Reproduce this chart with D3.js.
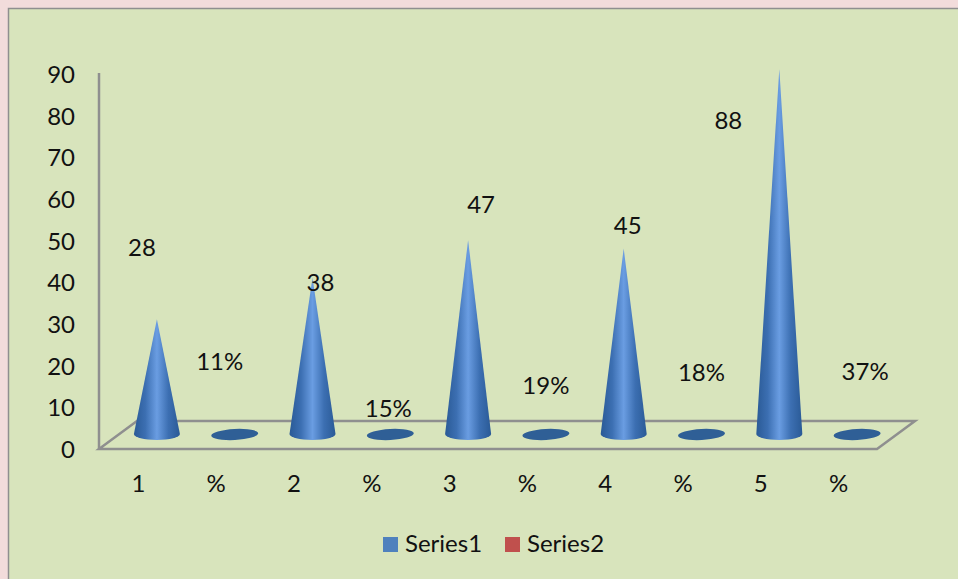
<!DOCTYPE html>
<html><head><meta charset="utf-8">
<script src="https://d3js.org/d3.v7.min.js"></script>
<style>html,body{margin:0;padding:0;background:#f2dcdb}svg{display:block}text{font-family:Lato,"Open Sans",sans-serif;fill:#111}</style>
</head><body><svg id="c" width="958" height="579"></svg>
<script>
const categories = ["1","%","2","%","3","%","4","%","5","%"];
const seriesValues = [28,0.11,38,0.15,47,0.19,45,0.18,88,0.37];
const dataLabels = ["28","11%","38","15%","47","19%","45","18%","88","37%"];
const labelDx = [-15,-15,8,-2,13,0,4,0,-51,8];
const labelDy = [247,361,282,408,204,385,225,372,120,371];
const yTicks = [0,10,20,30,40,50,60,70,80,90];
const legendNames = ["Series1","Series2"];
const legendColors = ["#4f81bd","#c0504d"];

const svg = d3.select("#c");
const FS = 24;
svg.append("rect").attr("x",8.5).attr("y",8.5).attr("width",960).attr("height",580)
  .attr("fill","#d8e4bc").attr("stroke","#8f8f8f").attr("stroke-width",1.5);

const defs = svg.append("defs");
const g = defs.append("linearGradient").attr("id","cone").attr("x1",0).attr("x2",1).attr("y1",0).attr("y2",0);
[[0,"#2a5a96"],[0.25,"#3c6fb2"],[0.5,"#6a9de2"],[0.75,"#3c6fb2"],[1,"#2a5a96"]]
  .forEach(s=>g.append("stop").attr("offset",s[0]).attr("stop-color",s[1]));

const y = d3.scaleLinear().domain([0,90]).range([449,74]);
const x = d3.scaleBand().domain(d3.range(categories.length)).range([118,896]);
const floorDepth = 38, floorRise = 28, floorRight = 877;
const baseShift = 13, rx = 23, ry = 6, baseCy = 434;

// floor
svg.append("path")
  .attr("d",`M99,${y(0)}L${floorRight},${y(0)}L${floorRight+floorDepth},${y(0)-floorRise}L${99+floorDepth},${y(0)-floorRise}Z`)
  .attr("fill","none").attr("stroke","#8f8f8f").attr("stroke-width",2.5).attr("stroke-linejoin","miter");
// y wall line
svg.append("line").attr("x1",99).attr("x2",99).attr("y1",y(90)-1).attr("y2",y(0))
  .attr("stroke","#8f8f8f").attr("stroke-width",2.5);

// y axis
const ay = svg.append("g").attr("transform","translate(75,0)")
  .call(d3.axisLeft(y).tickValues(yTicks).tickSize(0).tickPadding(0));
ay.select(".domain").remove();
ay.selectAll("text").style("font-size",FS+"px").style("font-family","Lato").attr("fill","#111").attr("dy","0.36em");

// x axis labels
const ax = svg.append("g").attr("transform","translate(-18.5,475)")
  .call(d3.axisBottom(x).tickFormat(i=>categories[i]).tickSize(0).tickPadding(0));
ax.select(".domain").remove();
ax.selectAll("text").style("font-size",FS+"px").style("font-family","Lato").attr("fill","#111").attr("dy","0.72em");

// cones & discs
const cx = i => x(i)+x.bandwidth()/2;
seriesValues.forEach((v,i)=>{
  if (v >= 1) {
    const tip = y(v)-baseShift;
    svg.append("path")
      .attr("d",`M${cx(i)},${tip}L${cx(i)+rx},${baseCy}A${rx},${ry} 0 0 1 ${cx(i)-rx},${baseCy}Z`)
      .attr("fill","url(#cone)");
  } else {
    svg.append("ellipse").attr("cx",cx(i)).attr("cy",baseCy+0.5)
      .attr("rx",rx+0.5).attr("ry",ry-0.5).attr("fill","#2f5f96")
      .attr("transform",`rotate(-3 ${cx(i)} ${baseCy})`);
  }
});

// data labels
dataLabels.forEach((t,i)=>{
  svg.append("text").attr("x",cx(i)+labelDx[i]).attr("y",labelDy[i]).attr("dy","0.36em")
    .attr("text-anchor","middle").style("font-size",FS+"px").text(t);
});

// legend
const legendX = [383,505];
legendNames.forEach((n,i)=>{
  svg.append("rect").attr("x",legendX[i]).attr("y",537).attr("width",15).attr("height",15).attr("fill",legendColors[i]);
  svg.append("text").attr("x",legendX[i]+22).attr("y",543).attr("dy","0.36em").style("font-size",FS+"px").text(n);
});
</script></body></html>
